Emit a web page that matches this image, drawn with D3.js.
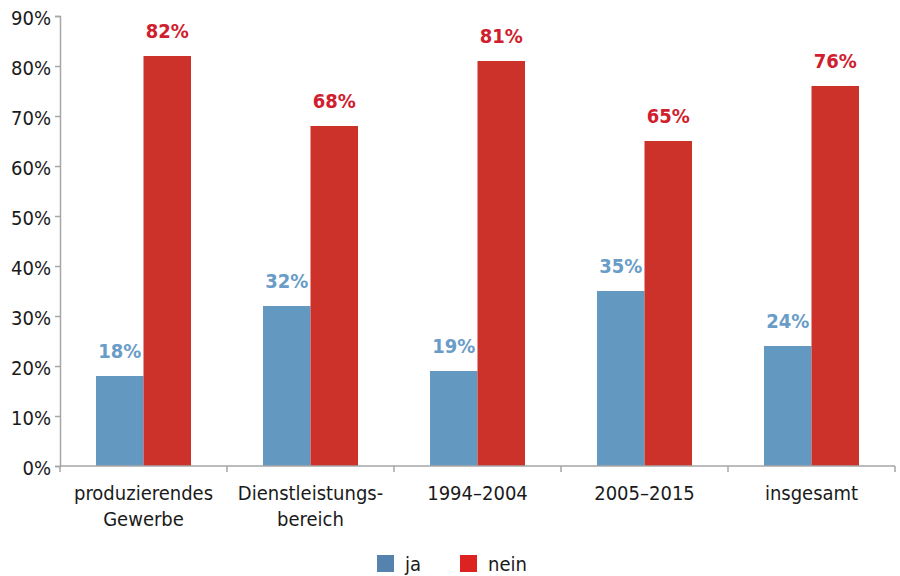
<!DOCTYPE html>
<meta charset="utf-8">
<style>
body { margin: 0; background: #fff; }
text { font-family: "Liberation Sans Narrow", "DejaVu Sans Condensed", "Roboto", sans-serif; }
.axis path, .axis line { stroke: #a6a6a6; stroke-width: 1.5px; }
.axis text { font-size: 20px; fill: #1a1a1a; }
.val { font-size: 20px; font-weight: bold; text-anchor: middle; }
</style>
<body>
<svg width="900" height="576"></svg>
<script src="https://d3js.org/d3.v7.min.js"></script>
<script>

var categories = [["produzierendes", "Gewerbe"], ["Dienstleistungs-", "bereich"], ["1994\u20132004"], ["2005\u20132015"], ["insgesamt"]];
var series = ["ja", "nein"];
var ja = [18, 32, 19, 35, 24];
var nein = [82, 68, 81, 65, 76];
var yTicks = [0, 10, 20, 30, 40, 50, 60, 70, 80, 90];

var barColor = { ja: "#6399c1", nein: "#cc3229" };
var labelColor = { ja: "#6a9cc8", nein: "#d0202e" };
var legendColor = { ja: "#5583ad", nein: "#dd2222" };

var svg = d3.select("svg"),
    margin = { left: 60, right: 5, top: 16, bottom: 110 },
    width = 900 - margin.left - margin.right,
    height = 576 - margin.top - margin.bottom,
    g = svg.append("g").attr("transform", "translate(" + margin.left + "," + margin.top + ")");

var x0 = d3.scaleBand().domain(d3.range(categories.length)).range([0, width]).paddingInner(0).paddingOuter(0);
var x1 = d3.scaleBand().domain(series).range([x0.bandwidth() / 2 - 47.5, x0.bandwidth() / 2 + 47.5]);
var y = d3.scaleLinear().domain([0, 90]).range([height, 0]);

// y axis
var yAxis = g.append("g").attr("class", "axis")
    .call(d3.axisLeft(y).tickValues(yTicks).tickSize(5).tickSizeOuter(5).tickFormat(function(d) { return d + "%"; }));
yAxis.selectAll("text").attr("x", -9).attr("dy", "0.4em");

var rows = d3.range(categories.length).map(function(i) { return { i: i, ja: ja[i], nein: nein[i] }; });

var grp = g.selectAll(".grp").data(rows).enter().append("g")
    .attr("transform", function(d) { return "translate(" + x0(d.i) + ",0)"; });

grp.selectAll("rect").data(function(d) { return series.map(function(s) { return { s: s, v: d[s] }; }); })
  .enter().append("rect")
    .attr("x", function(d) { return x1(d.s); })
    .attr("width", x1.bandwidth())
    .attr("y", function(d) { return y(d.v); })
    .attr("height", function(d) { return height - y(d.v); })
    .attr("fill", function(d) { return barColor[d.s]; });

grp.selectAll(".val").data(function(d) { return series.map(function(s) { return { s: s, v: d[s] }; }); })
  .enter().append("text")
    .attr("class", "val")
    .attr("x", function(d) { return x1(d.s) + x1.bandwidth() / 2; })
    .attr("y", function(d) { return y(d.v) - 18; })
    .attr("fill", function(d) { return labelColor[d.s]; })
    .text(function(d) { return d.v + "%"; });

// x axis with ticks at band boundaries
var xb = g.append("g").attr("class", "axis").attr("transform", "translate(0," + height + ")");
xb.append("line").attr("x1", 0).attr("x2", width);
xb.selectAll(".tk").data(d3.range(categories.length + 1)).enter().append("line")
    .attr("x1", function(i) { return i * x0.step(); })
    .attr("x2", function(i) { return i * x0.step(); })
    .attr("y1", 0).attr("y2", 6);

var lab = xb.selectAll(".lab").data(categories).enter().append("text")
    .attr("text-anchor", "middle")
    .attr("transform", function(d, i) { return "translate(" + (x0(i) + x0.bandwidth() / 2) + ",34)"; });
lab.selectAll("tspan").data(function(d) { return d; }).enter().append("tspan")
    .attr("x", 0).attr("dy", function(d, j) { return j ? 26 : 0; })
    .text(function(d) { return d; });

// legend
var leg = svg.append("g").attr("transform", "translate(377,555)");
var li = leg.selectAll("g").data(series).enter().append("g")
    .attr("transform", function(d, i) { return "translate(" + i * 83 + ",0)"; });
li.append("rect").attr("width", 17).attr("height", 17).attr("fill", function(d) { return legendColor[d]; });
li.append("text").attr("x", 28).attr("y", 16).style("font-size", "20px").attr("fill", "#1a1a1a").text(function(d) { return d; });

</script>
</body>
